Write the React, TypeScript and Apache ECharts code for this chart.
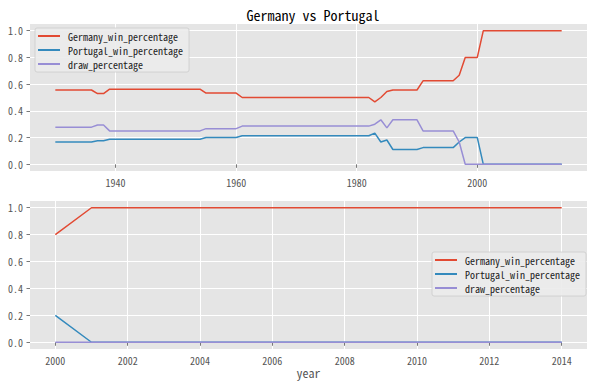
import React, { useEffect, useRef } from "react";
import * as echarts from "echarts";

// Top subplot: years at which values change (lines join these points)
const topYears = [1930, 1936, 1937, 1938, 1939, 1954, 1955, 1960, 1961, 1982, 1983, 1984, 1985, 1986, 1990, 1991, 1996, 1997, 1998, 2000, 2001, 2014];
const topGermany = [0.556, 0.556, 0.529, 0.529, 0.5625, 0.5625, 0.533, 0.533, 0.5, 0.5, 0.467, 0.5, 0.545, 0.556, 0.556, 0.625, 0.625, 0.667, 0.8, 0.8, 1, 1];
const topPortugal = [0.167, 0.167, 0.176, 0.176, 0.1875, 0.1875, 0.2, 0.2, 0.214, 0.214, 0.233, 0.167, 0.182, 0.111, 0.111, 0.125, 0.125, 0.167, 0.2, 0.2, 0, 0];
const topDraw = [0.278, 0.278, 0.294, 0.294, 0.25, 0.25, 0.267, 0.267, 0.286, 0.286, 0.3, 0.333, 0.273, 0.333, 0.333, 0.25, 0.25, 0.167, 0, 0, 0, 0];

// Bottom subplot: 2000 - 2014
const bottomYears = [2000, 2001, 2002, 2003, 2004, 2005, 2006, 2007, 2008, 2009, 2010, 2011, 2012, 2013, 2014];
const bottomGermany = [0.8, 1, 1, 1, 1, 1, 1, 1, 1, 1, 1, 1, 1, 1, 1];
const bottomPortugal = [0.2, 0, 0, 0, 0, 0, 0, 0, 0, 0, 0, 0, 0, 0, 0];
const bottomDraw = [0, 0, 0, 0, 0, 0, 0, 0, 0, 0, 0, 0, 0, 0, 0];

const seriesNames = ["Germany_win_percentage", "Portugal_win_percentage", "draw_percentage"];
const colors = ["#E24A33", "#348ABD", "#988ED5"];
const topXTicks = [1940, 1960, 1980, 2000];
const bottomXTicks = [2000, 2002, 2004, 2006, 2008, 2010, 2012, 2014];
const yTicks = [0, 0.2, 0.4, 0.6, 0.8, 1.0];
const titleText = "Germany vs Portugal";
const xLabel = "year";

const FONT = "'Noto Sans Mono CJK SC', 'Noto Sans CJK SC', 'DejaVu Sans', sans-serif";

export default function App() {
  const ref = useRef<HTMLDivElement>(null);
  useEffect(() => {
    if (!ref.current) return;
    const chart = echarts.init(ref.current, null, { renderer: "svg" });
    const zip = (xs: number[], ys: number[]) => xs.map((x, i) => [x, ys[i]]);
    const topSets = [topGermany, topPortugal, topDraw];
    const bottomSets = [bottomGermany, bottomPortugal, bottomDraw];

    const xAxisBase = (min: number, max: number, ticks: number[], gi: number, name?: string) => ({
      type: "value",
      gridIndex: gi,
      min,
      max,
      name: name || "",
      nameLocation: "middle",
      nameGap: 17,
      nameTextStyle: { color: "#555555", fontSize: 12, fontFamily: FONT },
      axisLine: { show: false },
      axisTick: { show: true, length: 3.5, lineStyle: { color: "#555555", width: 0.8 }, customValues: ticks },
      axisLabel: { customValues: ticks, color: "#555555", fontSize: 10, fontFamily: FONT, margin: 6, formatter: (v: number) => String(v) },
      splitLine: { show: true, lineStyle: { color: "#ffffff", width: 1 } },
    });
    const yAxisBase = (gi: number) => ({
      type: "value",
      gridIndex: gi,
      min: -0.05,
      max: 1.05,
      axisLine: { show: false },
      axisTick: { show: true, length: 3.5, lineStyle: { color: "#555555", width: 0.8 }, customValues: yTicks },
      axisLabel: { customValues: yTicks, color: "#555555", fontSize: 10, fontFamily: FONT, margin: 7, formatter: (v: number) => v.toFixed(1) },
      splitLine: { show: true, lineStyle: { color: "#ffffff", width: 1 } },
    });

    const legendBase = {
      orient: "vertical",
      icon: "rect",
      itemWidth: 22,
      itemHeight: 2,
      itemGap: 2,
      backgroundColor: "rgba(235,235,235,0.9)",
      borderColor: "#cccccc",
      borderWidth: 0.8,
      borderRadius: 2,
      padding: [2, 6, 2, 3],
      textStyle: { fontSize: 10, fontFamily: FONT, color: "#222222", lineHeight: 12, padding: [0, 0, 0, 3] },
      data: seriesNames,
      selectedMode: false,
    };

    const series: any[] = [];
    seriesNames.forEach((n, i) => {
      series.push({
        type: "line", name: n, xAxisIndex: 0, yAxisIndex: 0,
        data: zip(topYears, topSets[i]), showSymbol: false,
        lineStyle: { color: colors[i], width: 1.5 }, itemStyle: { color: colors[i] },
      });
    });
    seriesNames.forEach((n, i) => {
      series.push({
        type: "line", name: n, xAxisIndex: 1, yAxisIndex: 1,
        data: zip(bottomYears, bottomSets[i]), showSymbol: false,
        lineStyle: { color: colors[i], width: 1.5 }, itemStyle: { color: colors[i] },
      });
    });

    chart.setOption({
      animation: false,
      backgroundColor: "#ffffff",
      color: colors,
      title: {
        text: titleText, left: 308, top: 3, textAlign: "center",
        textStyle: { fontSize: 14, fontWeight: "normal", color: "#000000", fontFamily: FONT },
      },
      grid: [
        { left: 30, top: 24, width: 557, height: 147, backgroundColor: "#E5E5E5", show: true, borderWidth: 0 },
        { left: 30, top: 201, width: 557, height: 148, backgroundColor: "#E5E5E5", show: true, borderWidth: 0 },
      ],
      xAxis: [
        xAxisBase(1925.8, 2018.2, topXTicks, 0),
        xAxisBase(1999.3, 2014.7, bottomXTicks, 1, xLabel),
      ],
      yAxis: [yAxisBase(0), yAxisBase(1)],
      legend: [
        { ...legendBase, left: 35, top: 28 },
        { ...legendBase, left: 432, top: 252 },
      ],
      series,
    });
    return () => chart.dispose();
  }, []);
  return (
    <div
      ref={ref}
      style={{ position: "fixed", left: 0, top: 0, width: 597, height: 386, background: "#fff" }}
    />
  );
}
